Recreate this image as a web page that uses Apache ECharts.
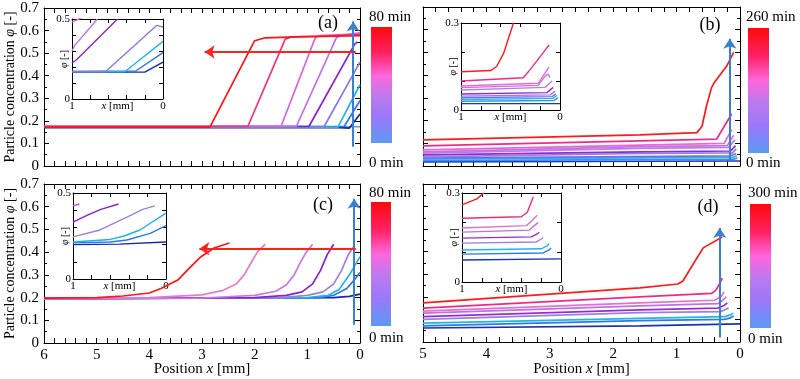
<!DOCTYPE html>
<html>
<head>
<meta charset="utf-8">
<script src="https://cdn.jsdelivr.net/npm/echarts@6/dist/echarts.min.js"></script>
<style>
html, body { margin: 0; padding: 0; background: #fff; }
#chart { width: 800px; height: 379px; }
</style>
</head>
<body>
<div id="chart"></div>
<script>
// ---- data: [x (mm), phi] pairs ----
// panel (a), 0-80 min, ordered red (late) -> blue (early)
var aRed = [[6, 0.172], [2.85, 0.172], [2.0, 0.555], [1.8, 0.568], [1.2, 0.572], [0, 0.578]];
var aPink = [[6, 0.175], [2.13, 0.175], [1.42, 0.562], [1.3, 0.572], [0.6, 0.576], [0, 0.582]];
var aMagenta = [[6, 0.175], [1.5, 0.175], [0.85, 0.568], [0.75, 0.578], [0, 0.585]];
var aOrchid = [[6, 0.175], [1.21, 0.175], [0.45, 0.568], [0.35, 0.58], [0, 0.59]];
var aPurple = [[6, 0.175], [0.97, 0.175], [0.1, 0.54], [0.05, 0.55]];
var aMedPurple = [[6, 0.175], [0.68, 0.175], [0, 0.46]];
var aCyan = [[6, 0.172], [0.42, 0.172], [0, 0.36]];
var aBlue = [[6, 0.175], [0.3, 0.175], [0, 0.29]];
var aNavy = [[6, 0.17], [0.4, 0.17], [0.2, 0.168], [0, 0.23]];
var aLight = [[6, 0.172], [0, 0.174]];
// inset (a)
var iaMagenta = [[1, 0.48], [0.85, 0.52]];
var iaOrchid = [[1, 0.3], [0.97, 0.335], [0.72, 0.5]];
var iaPurple = [[1, 0.225], [0.95, 0.245], [0.5, 0.5]];
var iaMedPurple = [[1, 0.172], [0.63, 0.172], [0.07, 0.46], [0, 0.45]];
var iaCyan = [[1, 0.17], [0.42, 0.17], [0, 0.36]];
var iaBlue = [[1, 0.172], [0.3, 0.175], [0, 0.29]];
var iaNavy = [[1, 0.168], [0.2, 0.168], [0, 0.23]];
var iaLight = [[1, 0.17], [0.4, 0.17]];

// panel (b), 0-260 min
var bRed = [[5, 0.115], [1.58, 0.137], [0.68, 0.147], [0.6, 0.174], [0.53, 0.263], [0.45, 0.344], [0.41, 0.365], [0.21, 0.44], [0.1, 0.5]];
var bPink = [[5, 0.089], [1.58, 0.111], [0.37, 0.118], [0.13, 0.23]];
var b3 = [[5, 0.071], [1.58, 0.092], [0.25, 0.1], [0.13, 0.16]];
var b4 = [[5, 0.062], [1.58, 0.085], [0.2, 0.09], [0.1, 0.135]];
var b5 = [[5, 0.057], [1.58, 0.078], [0.18, 0.082], [0.08, 0.115]];
var b6 = [[5, 0.049], [1.58, 0.062], [0.15, 0.066], [0.07, 0.09]];
var b7 = [[5, 0.04], [1.58, 0.055], [0.12, 0.058], [0.06, 0.075]];
var b8 = [[5, 0.035], [0.15, 0.045], [0.06, 0.055]];
var b9 = [[5, 0.03], [0.12, 0.038], [0.05, 0.045]];
var b10 = [[5, 0.024], [0.1, 0.03], [0.04, 0.035]];
var b11 = [[5, 0.018], [0, 0.022]];
// inset (b)
var ibRed = [[1, 0.132], [0.7, 0.136], [0.64, 0.15], [0.57, 0.195], [0.47, 0.3]];
var ibPink = [[1, 0.1], [0.37, 0.111], [0.3, 0.14], [0.2, 0.184], [0.11, 0.224]];
var ib3 = [[1, 0.083], [0.22, 0.092], [0.11, 0.149]];
var ib4 = [[1, 0.077], [0.22, 0.085], [0.15, 0.117], [0.12, 0.124], [0.1, 0.112]];
var ib5 = [[1, 0.069], [0.15, 0.078], [0.08, 0.1]];
var ib6 = [[1, 0.055], [0.13, 0.06], [0.07, 0.078]];
var ib7 = [[1, 0.048], [0.1, 0.052], [0.05, 0.065]];
var ib8 = [[1, 0.042], [0.08, 0.046], [0.04, 0.056]];
var ib9 = [[1, 0.036], [0.07, 0.04], [0.03, 0.05]];
var ib10 = [[1, 0.03], [0.06, 0.033], [0.02, 0.042]];
var ib11 = [[1, 0.022], [0, 0.022]];

// panel (c), 0-80 min
var cRed = [[6, 0.198], [5, 0.2], [4.5, 0.207], [4.0, 0.22], [3.78, 0.24], [3.46, 0.277], [3.24, 0.33], [3.02, 0.38], [2.77, 0.418], [2.48, 0.44]];
var cPink = [[6, 0.195], [4, 0.2], [3.0, 0.212], [2.6, 0.232], [2.35, 0.26], [2.2, 0.3], [2.05, 0.36], [1.95, 0.4], [1.8, 0.435]];
var cOrchid = [[6, 0.195], [3, 0.198], [2.0, 0.21], [1.6, 0.228], [1.4, 0.255], [1.25, 0.3], [1.12, 0.36], [1.02, 0.4], [0.9, 0.435]];
var cPurple = [[6, 0.195], [2, 0.2], [1.4, 0.21], [1.1, 0.225], [0.9, 0.26], [0.75, 0.32], [0.62, 0.39], [0.5, 0.435]];
var cMedPurple = [[6, 0.195], [1.5, 0.2], [1.0, 0.21], [0.7, 0.225], [0.5, 0.26], [0.35, 0.32], [0.22, 0.39], [0.1, 0.43]];
var cCyan = [[6, 0.195], [1, 0.2], [0.6, 0.21], [0.4, 0.235], [0.2, 0.3], [0, 0.38]];
var cBlue = [[6, 0.195], [0.8, 0.2], [0.5, 0.21], [0.25, 0.24], [0.1, 0.28], [0, 0.31]];
var cNavy = [[6, 0.195], [0.5, 0.2], [0.2, 0.205], [0, 0.215]];
// inset (c)
var icOrchid = [[1, 0.425], [0.93, 0.436]];
var icPurple = [[1, 0.33], [0.85, 0.37], [0.7, 0.405], [0.51, 0.436]];
var icMedPurple = [[1, 0.245], [0.71, 0.285], [0.42, 0.36], [0.25, 0.405], [0.12, 0.425]];
var icCyan = [[1, 0.215], [0.6, 0.23], [0.45, 0.25], [0.28, 0.285], [0, 0.383]];
var icBlue = [[1, 0.21], [0.6, 0.215], [0.42, 0.227], [0.17, 0.265], [0, 0.31]];
var icNavy = [[1, 0.2], [0.5, 0.203], [0, 0.215]];

// panel (d), 0-300 min
var dRed = [[5, 0.173], [1.58, 0.24], [0.98, 0.257], [0.9, 0.27], [0.75, 0.34], [0.58, 0.417], [0.28, 0.465]];
var dPink = [[5, 0.15], [1.58, 0.2], [0.45, 0.215], [0.38, 0.23], [0.3, 0.27], [0.28, 0.283]];
var d3 = [[5, 0.137], [1.58, 0.173], [0.4, 0.185], [0.3, 0.2], [0.25, 0.222]];
var d4 = [[5, 0.128], [1.58, 0.16], [0.35, 0.17], [0.27, 0.185], [0.22, 0.2]];
var d5 = [[5, 0.112], [1.58, 0.142], [0.35, 0.15], [0.25, 0.162], [0.2, 0.173]];
var d6 = [[5, 0.1], [1.58, 0.13], [0.3, 0.135], [0.22, 0.145], [0.18, 0.15]];
var d7 = [[5, 0.084], [1.58, 0.105], [0.25, 0.112], [0.15, 0.12], [0.11, 0.128]];
var d8 = [[5, 0.071], [1.58, 0.095], [0.25, 0.1], [0.15, 0.107], [0.1, 0.115]];
var d9 = [[5, 0.062], [1.58, 0.071], [0, 0.08]];
// inset (d)
var idRed = [[1, 0.26], [0.85, 0.28], [0.78, 0.3]];
var idPink = [[1, 0.215], [0.4, 0.22], [0.34, 0.235], [0.28, 0.287]];
var id3 = [[1, 0.182], [0.35, 0.19], [0.3, 0.205], [0.24, 0.225]];
var id4 = [[1, 0.168], [0.32, 0.175], [0.27, 0.19], [0.23, 0.2]];
var id5 = [[1, 0.148], [0.3, 0.152], [0.24, 0.162], [0.22, 0.168]];
var id6 = [[1, 0.131], [0.25, 0.135], [0.2, 0.145], [0.18, 0.15]];
var id7 = [[1, 0.108], [0.2, 0.112], [0.14, 0.122], [0.12, 0.13]];
var id8 = [[1, 0.094], [0.18, 0.098], [0.12, 0.108], [0.1, 0.115]];
var id9 = [[1, 0.074], [0, 0.078]];

// arrows [start, end]
var arrowA = [[0.13, 0.085], [0.13, 0.64]];
var arrowARed = [[0.08, 0.505], [2.95, 0.505]];
var arrowB = [[0.16, 0.02], [0.16, 0.56]];
var arrowC = [[0.11, 0.08], [0.11, 0.635]];
var arrowCRed = [[0.08, 0.415], [3.05, 0.415]];
var arrowD = [[0.32, 0.02], [0.32, 0.505]];

var colorbarText = [['80 min', '0 min'], ['260 min', '0 min'], ['80 min', '0 min'], ['300 min', '0 min']];

// ---- colours ----
var palA = ['#ff1515', '#f5307d', '#e060d8', '#c070ee', '#8a22d0', '#8a78e6', '#22b4ea', '#2a78ea', '#1428a8', '#55a0f0'];
var palB = ['#ff1a1a', '#f02a8a', '#e46ad8', '#cc70e0', '#b480e8', '#8e2ad0', '#9a78e4', '#6a70e8', '#28b8e8', '#3a90ee', '#1a3ab8'];
var palC = ['#ff1515', '#e47acc', '#c878e8', '#8a20d0', '#9a80e0', '#22b0e8', '#2a78ea', '#1428a8'];
var palD = ['#ff1a1a', '#f02a80', '#e070d8', '#c070e0', '#9a2ad6', '#9a80e4', '#22b4e8', '#2a7ae8', '#1535b5'];
var arrowBlue = '#3a7fd0';
var arrowRed = '#ff2020';
var FONT = 'Liberation Serif';

var grids = [], xAxes = [], yAxes = [], series = [];

function nameStyle(size) {
  return {fontFamily: FONT, fontSize: size, color: '#000',
    rich: {t: {fontFamily: FONT, fontSize: size, color: '#000'}, i: {fontFamily: FONT, fontSize: size, fontStyle: 'italic', color: '#000'}}};
}

// one framed plot: bottom/left axes with labels, top/right mirror axes with ticks only
function frame(box, xr, yr, opt) {
  grids.push({left: box[0], top: box[1], width: box[2], height: box[3]});
  var g = grids.length - 1;
  function ax(r, isY, extra) {
    var a = {
      type: 'value', gridIndex: g, min: r[0], max: r[1], interval: r[2],
      splitLine: {show: false},
      axisLine: {show: true, onZero: false, lineStyle: {color: '#000', width: 1}},
      axisTick: {show: true, inside: true, length: opt.tick, lineStyle: {color: '#000'}},
      minorTick: {show: r[3] > 1, splitNumber: r[3] || 1, length: isY ? opt.tick * 0.6 : opt.tick, lineStyle: {color: '#000'}},
      axisLabel: {show: false},
      nameMoveOverlap: false
    };
    return Object.assign(a, extra || {});
  }
  var lab = {show: true, color: '#000', fontFamily: FONT, fontSize: opt.fs, margin: opt.margin};
  xAxes.push(ax(xr, false, {position: 'bottom', inverse: true,
    axisLabel: opt.xLab ? Object.assign({}, lab, {formatter: opt.xFmt}) : {show: false},
    name: opt.xName || '', nameLocation: 'middle', nameGap: opt.xGap || 0,
    nameTextStyle: nameStyle(opt.xfs)}));
  xAxes.push(ax(xr, false, {position: 'top', inverse: true}));
  yAxes.push(ax(yr, true, {position: 'left',
    axisLabel: opt.yLab ? Object.assign({}, lab, {formatter: opt.yFmt}) : {show: false},
    name: opt.yName || '', nameLocation: 'middle', nameGap: opt.yGap || 0,
    nameTextStyle: nameStyle(opt.yfs)}));
  yAxes.push(ax(yr, true, {position: 'right'}));
  return {x: xAxes.length - 2, y: yAxes.length - 2};
}

function lines(a, arrs, pal, w) {
  for (var i = arrs.length - 1; i >= 0; i--) {
    series.push({type: 'line', xAxisIndex: a.x, yAxisIndex: a.y, data: arrs[i],
      showSymbol: false, silent: true, clip: true,
      lineStyle: {color: pal[i], width: w}, itemStyle: {color: pal[i]}});
  }
}

function arrow(a, pts, col) {
  series.push({type: 'line', xAxisIndex: a.x, yAxisIndex: a.y, data: [], silent: true,
    markLine: {silent: true, animation: false, symbol: ['none', 'arrow'], symbolSize: 10,
      label: {show: false}, lineStyle: {color: col, width: 2, type: 'solid'},
      data: [[{coord: pts[0]}, {coord: pts[1]}]]}});
}

var yName = '{t|Particle concentration }{i|φ}{t| [-]}';
var xName = '{t|Position }{i|x}{t| [mm]}';
function ends(lo, hi) { return function (v) { return (Math.abs(v - lo) < 1e-6 || Math.abs(v - hi) < 1e-6) ? String(v) : ''; }; }

var mainA = frame([44, 8, 316, 158], [0, 6, 1, 5], [0, 0.7, 0.1, 2],
  {tick: 5, fs: 15, xfs: 15, yfs: 14, margin: 5, yLab: true, yName: yName, yGap: 27});
var mainB = frame([423, 7, 317, 159], [0, 5, 1, 5], [0, 0.7, 0.1, 2], {tick: 5, fs: 15, xfs: 15, yfs: 14, margin: 5});
var mainC = frame([44, 184, 316, 159], [0, 6, 1, 5], [0, 0.7, 0.1, 2],
  {tick: 5, fs: 15, xfs: 15, yfs: 14, margin: 5, yLab: true, yName: yName, yGap: 27, xLab: true, xName: xName, xGap: 19});
var mainD = frame([423, 184, 317, 158], [0, 5, 1, 5], [0, 0.7, 0.1, 2],
  {tick: 5, fs: 15, xfs: 15, yfs: 14, margin: 5, xLab: true, xName: xName, xGap: 20});

var insOpt = function (ymax) {
  return {tick: 4, fs: 11, xfs: 11, yfs: 10, margin: 2, xLab: true, yLab: true, xFmt: ends(0, 1), yFmt: ends(0, ymax),
    xName: '{i|x}{t| [mm]}', xGap: 2, yName: '{i|φ}{t| [-]}', yGap: 3};
};
var insA = frame([72, 19, 91, 80], [0, 1, 0.2], [0, 0.5, 0.1], insOpt(0.5));
var insB = frame([461, 23, 99, 87], [0, 1, 0.2], [0, 0.3, 0.1], insOpt(0.3));
var insC = frame([73, 193, 93, 86], [0, 1, 0.2], [0, 0.5, 0.1], insOpt(0.5));
var insD = frame([462, 193, 99, 89], [0, 1, 0.2], [0, 0.3, 0.1], insOpt(0.3));

lines(mainA, [aRed, aPink, aMagenta, aOrchid, aPurple, aMedPurple, aCyan, aBlue, aNavy, aLight], palA, 1.7);
lines(insA, [iaMagenta, iaOrchid, iaPurple, iaMedPurple, iaCyan, iaBlue, iaNavy, iaLight], palA.slice(2), 1.4);
lines(mainB, [bRed, bPink, b3, b4, b5, b6, b7, b8, b9, b10, b11], palB, 1.7);
lines(insB, [ibRed, ibPink, ib3, ib4, ib5, ib6, ib7, ib8, ib9, ib10, ib11], palB, 1.4);
lines(mainC, [cRed, cPink, cOrchid, cPurple, cMedPurple, cCyan, cBlue, cNavy], palC, 1.7);
lines(insC, [icOrchid, icPurple, icMedPurple, icCyan, icBlue, icNavy], ['#d050e0'].concat(palC.slice(3)), 1.4);
lines(mainD, [dRed, dPink, d3, d4, d5, d6, d7, d8, d9], palD, 1.7);
lines(insD, [idRed, idPink, id3, id4, id5, id6, id7, id8, id9], palD, 1.4);

arrow(mainA, arrowA, arrowBlue);
arrow(mainA, arrowARed, arrowRed);
arrow(mainB, arrowB, arrowBlue);
arrow(mainC, arrowC, arrowBlue);
arrow(mainC, arrowCRed, arrowRed);
arrow(mainD, arrowD, arrowBlue);

// colour bars and panel tags
var barStops = [
  {offset: 0, color: '#ff0a0a'}, {offset: 0.22, color: '#ff2060'}, {offset: 0.42, color: '#ff66dd'},
  {offset: 0.6, color: '#bb7aee'}, {offset: 0.78, color: '#9a78fa'}, {offset: 1, color: '#5a9af5'}
];
var bars = [[371, 27, 21, 116, 17, 163], [748, 28, 21, 125, 17, 163], [371, 202, 20, 124, 193, 338], [750, 204, 21, 124, 193, 339]];
var graphic = [];
bars.forEach(function (b, i) {
  graphic.push({type: 'rect', shape: {x: b[0], y: b[1], width: b[2], height: b[3]},
    style: {fill: new echarts.graphic.LinearGradient(0, 0, 0, 1, barStops)}, silent: true});
  graphic.push({type: 'text', x: b[0] - 2, y: b[4], style: {text: colorbarText[i][0], font: '15px "' + FONT + '"', fill: '#000', verticalAlign: 'middle'}});
  graphic.push({type: 'text', x: b[0] - 2, y: b[5], style: {text: colorbarText[i][1], font: '15px "' + FONT + '"', fill: '#000', verticalAlign: 'middle'}});
});
[['(a)', 328, 23], ['(b)', 710, 25], ['(c)', 323, 205], ['(d)', 708, 207]].forEach(function (t) {
  graphic.push({type: 'text', x: t[1], y: t[2], style: {text: t[0], font: '18px "' + FONT + '"', fill: '#000', align: 'center', verticalAlign: 'middle'}});
});

var chart = echarts.init(document.getElementById('chart'));
chart.setOption({
  animation: false,
  backgroundColor: '#fff',
  grid: grids,
  xAxis: xAxes,
  yAxis: yAxes,
  series: series,
  graphic: graphic
});
</script>
</body>
</html>
